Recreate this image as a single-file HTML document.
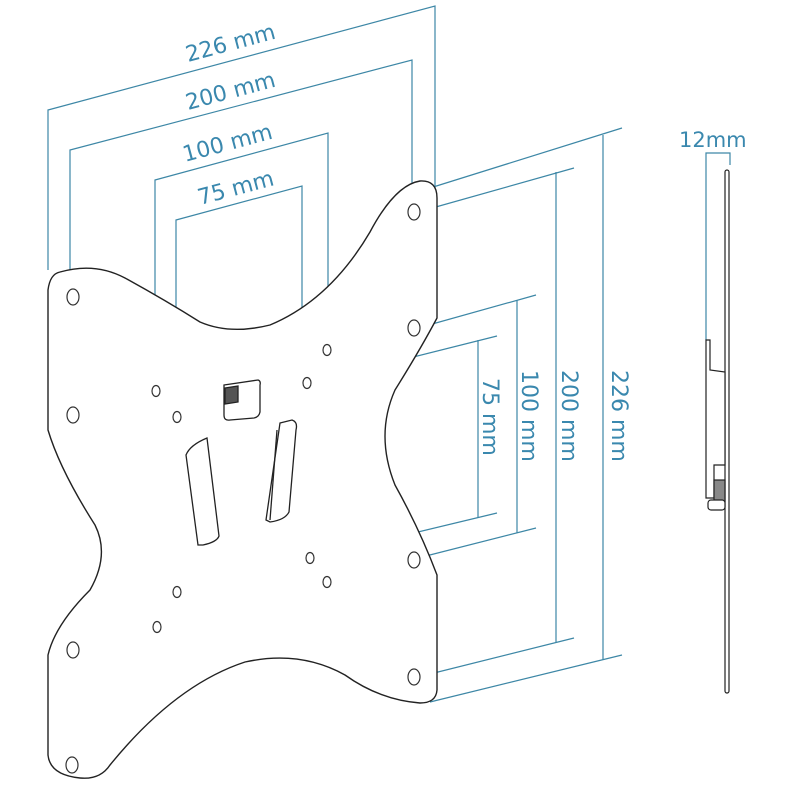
<!DOCTYPE html>
<html><head><meta charset="utf-8"><style>
html,body{margin:0;padding:0;background:#fff;width:800px;height:800px;overflow:hidden}
svg{display:block}
.d{stroke:#3d87a6;stroke-width:1.2;fill:none}
.t{fill:#3a88ae;font-family:"DejaVu Sans","Liberation Sans",sans-serif;font-size:22px}
.p{stroke:#222;stroke-width:1.4;fill:#fff}
.h{stroke:#333;stroke-width:1.2;fill:#fff}
</style></head><body>
<svg width="800" height="800" viewBox="0 0 800 800">
<!-- top dimensions -->
<g class="d">
<polyline points="48,270 48,110 435,6 435,188"/>
<polyline points="70,296 70,150 412,60 412,205"/>
<polyline points="155,388 155,180 328,133 328,345"/>
<polyline points="176,414 176,220 302,186 302,380"/>
</g>
<text class="t" transform="translate(188,62) rotate(-15)">226 mm</text>
<text class="t" transform="translate(188,110) rotate(-15)">200 mm</text>
<text class="t" transform="translate(185,162) rotate(-15)">100 mm</text>
<text class="t" transform="translate(200,205) rotate(-15)">75 mm</text>
<!-- right dimensions -->
<g class="d">
<line x1="430" y1="188" x2="622" y2="128"/><line x1="430" y1="702" x2="622" y2="655"/><line x1="603" y1="135" x2="603" y2="660"/>
<line x1="418" y1="212" x2="574" y2="168"/><line x1="418" y1="677" x2="574" y2="638"/><line x1="556" y1="172" x2="556" y2="642"/>
<line x1="418" y1="328" x2="536" y2="295"/><line x1="418" y1="558" x2="536" y2="528"/><line x1="517" y1="300" x2="517" y2="533"/>
<line x1="310" y1="383" x2="497" y2="336"/><line x1="310" y1="558" x2="497" y2="513"/><line x1="478" y1="340" x2="478" y2="518"/>
</g>
<text class="t" transform="translate(612,370) rotate(90)">226 mm</text>
<text class="t" transform="translate(562,370) rotate(90)">200 mm</text>
<text class="t" transform="translate(522,370) rotate(90)">100 mm</text>
<text class="t" transform="translate(483,378) rotate(90)">75 mm</text>
<!-- plate -->
<path class="p" d="M60,272 Q95,262 125,278 Q165,300 200,322 Q230,335 270,325 Q330,300 370,232 Q395,185 420,181 Q437,180 437,198 L437,318 Q420,350 395,390 Q375,435 395,485 Q420,530 437,575 L437,690 Q436,703 420,703 Q380,700 345,675 Q300,650 245,662 Q175,685 110,765 Q100,780 80,778 Q50,775 48,755 L48,655 Q55,625 90,590 Q110,555 95,525 Q60,470 48,430 L48,290 Q50,274 60,272 Z"/>
<g class="h">
<ellipse cx="73" cy="297" rx="6" ry="8"/><ellipse cx="73" cy="415" rx="6" ry="8"/>
<ellipse cx="73" cy="650" rx="6" ry="8"/><ellipse cx="72" cy="765" rx="6" ry="8"/>
<ellipse cx="414" cy="212" rx="6" ry="8"/><ellipse cx="414" cy="328" rx="6" ry="8"/>
<ellipse cx="414" cy="560" rx="6" ry="8"/><ellipse cx="414" cy="677" rx="6" ry="8"/>
<ellipse cx="327" cy="350" rx="4" ry="5.5"/><ellipse cx="156" cy="391" rx="4" ry="5.5"/>
<ellipse cx="177" cy="417" rx="4" ry="5.5"/><ellipse cx="307" cy="383" rx="4" ry="5.5"/>
<ellipse cx="310" cy="558" rx="4" ry="5.5"/><ellipse cx="327" cy="582" rx="4" ry="5.5"/>
<ellipse cx="177" cy="592" rx="4" ry="5.5"/><ellipse cx="157" cy="627" rx="4" ry="5.5"/>
</g>
<g stroke="#222" stroke-width="1.3" fill="#fff">
<path d="M224,385 L258,380 Q261,381 260,385 L260,412 Q259,417 254,418 L230,420 Q224,421 224,415 Z"/>
<path d="M225,388 L238,386 L238,402 L225,404 Z" fill="#555"/>
<path d="M186,455 Q190,445 207,438 L219,536 Q217,542 203,545 L198,545 Z"/>
<path d="M280,423 L292,420 Q298,422 296,430 L289,512 Q285,520 270,522 L266,520 Z"/>
<line x1="277" y1="430" x2="270" y2="520"/>
</g>
<!-- side view -->
<g class="d"><polyline points="706,340 706,153 730,153 730,165"/></g>
<text class="t" x="679" y="147" style="font-size:21px">12mm</text>
<g stroke="#222" stroke-width="1.2" fill="#fff">
<rect x="725" y="170" width="4" height="523" rx="2"/>
<path d="M706,340 L710,340 L710,370 L725,372 L725,465 L714,465 L714,498 L706,498 Z"/>
<rect x="714" y="480" width="11" height="22" fill="#888"/>
<rect x="708" y="500" width="17" height="10" rx="3"/>
</g>
</svg>
</body></html>
